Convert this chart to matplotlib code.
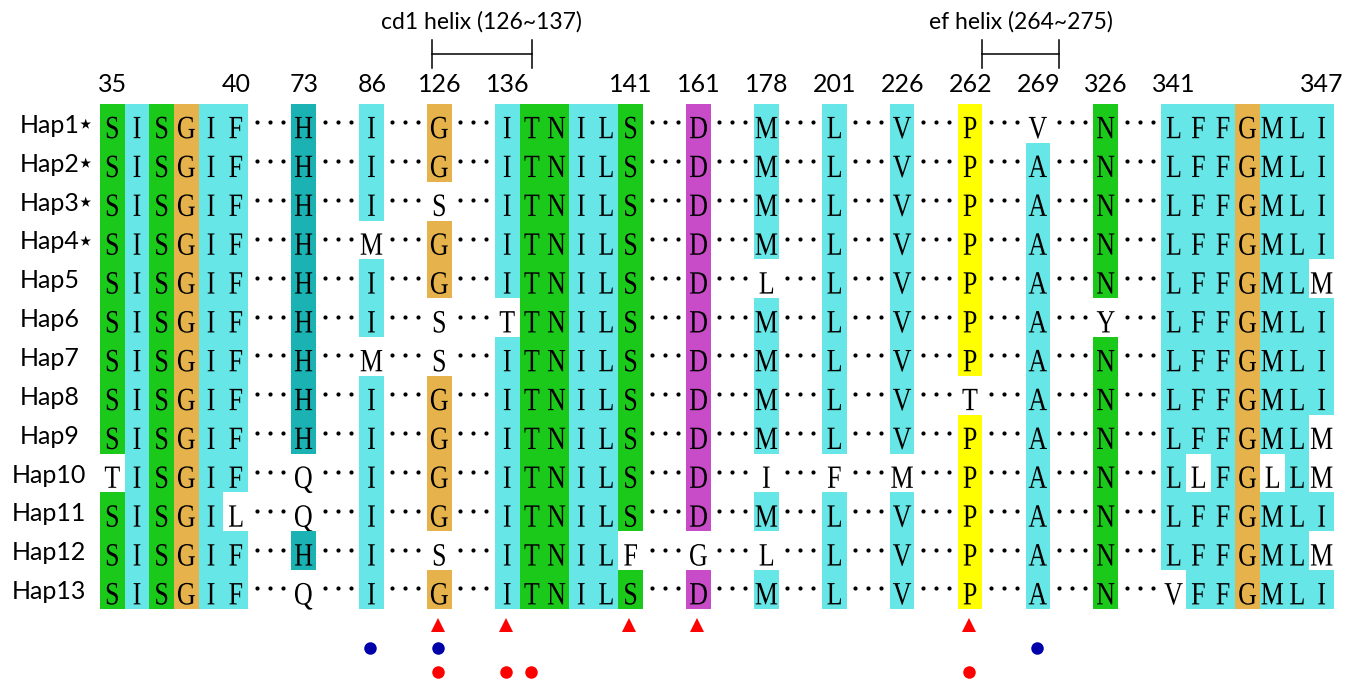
import matplotlib.pyplot as plt
from matplotlib.patches import Rectangle, PathPatch
from matplotlib.textpath import TextPath
from matplotlib.font_manager import FontProperties
from matplotlib.transforms import Affine2D
from collections import Counter

# alignment columns (residue numbers) and haplotype sequences
positions = [35, 36, 37, 38, 39, 40, 73, 86, 126, 136, 137, 138, 139, 140, 141,
             161, 178, 201, 226, 262, 269, 326, 341, 342, 343, 344, 345, 346, 347]
labeled = [35, 40, 73, 86, 126, 136, 141, 161, 178, 201, 226, 262, 269, 326, 341, 347]
haps = ['Hap1', 'Hap2', 'Hap3', 'Hap4', 'Hap5', 'Hap6', 'Hap7', 'Hap8', 'Hap9',
        'Hap10', 'Hap11', 'Hap12', 'Hap13']
starred = ['Hap1', 'Hap2', 'Hap3', 'Hap4']
seqs = [
    'SISGIFHIGITNILSDMLVPVNLFFGMLI',
    'SISGIFHIGITNILSDMLVPANLFFGMLI',
    'SISGIFHISITNILSDMLVPANLFFGMLI',
    'SISGIFHMGITNILSDMLVPANLFFGMLI',
    'SISGIFHIGITNILSDLLVPANLFFGMLM',
    'SISGIFHISTTNILSDMLVPAYLFFGMLI',
    'SISGIFHMSITNILSDMLVPANLFFGMLI',
    'SISGIFHIGITNILSDMLVTANLFFGMLI',
    'SISGIFHIGITNILSDMLVPANLFFGMLM',
    'TISGIFQIGITNILSDIFMPANLLFGLLM',
    'SISGILQIGITNILSDMLVPANLFFGMLI',
    'SISGIFHISITNILFGLLVPANLFFGMLM',
    'SISGIFQIGITNILSDMLVPANVFFGMLI',
]
helices = [('cd1 helix (126~137)', 126, 137), ('ef helix (264~275)', 262, 269)]
triangles = [126, 136, 141, 161, 262]
blue_dots = [86, 126, 269]
red_dots = [126, 136, 137, 262]

colors = {}
for aa in 'STNQ':
    colors[aa] = '#1bc91b'
for aa in 'ILFMVAWC':
    colors[aa] = '#66e6e6'
colors['G'] = '#e6b24c'
colors['H'] = '#1ab2b2'
colors['D'] = '#c84cc8'
colors['E'] = '#c84cc8'
colors['P'] = '#ffff00'

# x layout: one unit per residue column, wider gaps between non-adjacent columns
GAP = 1.75
xpos = {}
gaps = []
u = 0.0
prev = None
for p in positions:
    if prev is not None and p != prev + 1:
        gaps.append(u)
        u += GAP
    xpos[p] = u
    u += 1
    prev = p

fig = plt.figure(figsize=(13.58, 6.83), dpi=100)
ax = fig.add_axes([0, 0, 1, 1])
pxu = 24.68
pxr = 38.85
ax.set_xlim(-100 / pxu, (1358 - 100) / pxu)
ax.set_ylim((683 - 104) / pxr, -104 / pxr)
ax.axis('off')

seq_prop = FontProperties(family='Liberation Serif')
lab_font = 'Lato'
EM = 32.5      # letter em size in pixels
SQUEEZE = 0.8  # narrow the serif letters like the original font


def letter(ch, xc, base):
    tp = TextPath((0, 0), ch, size=1, prop=seq_prop)
    ext = tp.get_extents()
    cx = (ext.x0 + ext.x1) / 2
    sx = EM * SQUEEZE / pxu
    sy = EM / pxr
    tr = Affine2D().translate(-cx, 0).scale(sx, -sy).translate(xc, base) + ax.transData
    ax.add_patch(PathPatch(tp, transform=tr, color='black', lw=0))


for r, (name, s) in enumerate(zip(haps, seqs)):
    ax.text(-2.05, r + 0.55, name, ha='center', va='center', fontsize=18,
            family=lab_font)
    if name in starred:
        ax.text(-0.58, r + 0.55, '\u22c6', ha='center', va='center', fontsize=20,
                family='DejaVu Sans')
    for j, p in enumerate(positions):
        col = [q[j] for q in seqs]
        cons = Counter(col).most_common(1)[0][0]
        aa = s[j]
        if aa == cons:
            ax.add_patch(Rectangle((xpos[p], r), 1, 1, color=colors[aa], lw=0))
        letter(aa, xpos[p] + 0.5, r + 0.88)
    for g in gaps:
        ax.plot([g + 0.35, g + 0.875, g + 1.4], [r + 0.47] * 3, 'o', color='black',
                ms=3, mew=0)

for p in labeled:
    ax.text(xpos[p] + 0.52, -0.49, str(p), ha='center', va='center', fontsize=18,
            family=lab_font)

# helix brackets
for (txt, a, b), (da, db) in zip(helices, [(0.2, 0.5), (1.0, 1.35)]):
    x0 = xpos[a] + da
    x1 = xpos[b] + db
    ax.plot([x0, x0], [-1.65, -0.93], color='black', lw=1.1)
    ax.plot([x1, x1], [-1.65, -0.93], color='black', lw=1.1)
    ax.plot([x0, x1], [-1.29, -1.29], color='black', lw=1.1)
    ax.text((x0 + x1) / 2, -2.11, txt, ha='center', va='center', fontsize=16.5,
            family=lab_font)

ax.plot([xpos[p] + 0.45 for p in triangles], [13.41] * len(triangles), '^',
        color='#ff0000', ms=10, mew=0)
ax.plot([xpos[p] + 0.45 for p in blue_dots], [14.0] * len(blue_dots), 'o',
        color='#0000aa', ms=9, mew=0)
ax.plot([xpos[p] + 0.45 for p in red_dots], [14.62] * len(red_dots), 'o',
        color='#ff0000', ms=9, mew=0)

fig.savefig('out.png', dpi=100)
